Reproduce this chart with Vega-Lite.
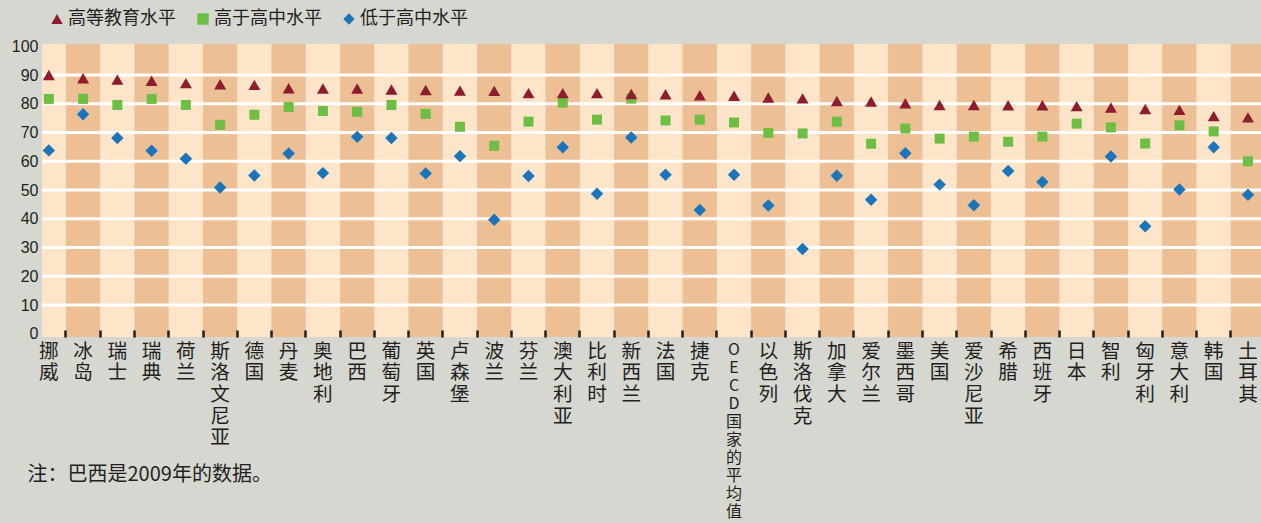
{
  "$schema": "https://vega.github.io/schema/vega-lite/v6.json",
  "width": 1219,
  "height": 293,
  "autosize": {"type": "none"},
  "padding": {"left": 42, "top": 44, "right": 0, "bottom": 186},
  "background": "#d6d7d1",
  "config": {"view": {"stroke": null}, "font": "Noto Sans CJK SC"},
  "data": {"values": [
    {"c": "挪威", "高等教育水平": 90.0, "高于高中水平": 81.7, "低于高中水平": 63.8},
    {"c": "冰岛", "高等教育水平": 88.9, "高于高中水平": 81.7, "低于高中水平": 76.4},
    {"c": "瑞士", "高等教育水平": 88.4, "高于高中水平": 79.6, "低于高中水平": 68.1},
    {"c": "瑞典", "高等教育水平": 88.0, "高于高中水平": 81.7, "低于高中水平": 63.7},
    {"c": "荷兰", "高等教育水平": 87.2, "高于高中水平": 79.6, "低于高中水平": 60.9},
    {"c": "斯洛文尼亚", "高等教育水平": 86.8, "高于高中水平": 72.7, "低于高中水平": 50.9},
    {"c": "德国", "高等教育水平": 86.6, "高于高中水平": 76.2, "低于高中水平": 55.1},
    {"c": "丹麦", "高等教育水平": 85.4, "高于高中水平": 78.9, "低于高中水平": 62.7},
    {"c": "奥地利", "高等教育水平": 85.3, "高于高中水平": 77.5, "低于高中水平": 55.9},
    {"c": "巴西", "高等教育水平": 85.3, "高于高中水平": 77.2, "低于高中水平": 68.5},
    {"c": "葡萄牙", "高等教育水平": 85.0, "高于高中水平": 79.6, "低于高中水平": 68.1},
    {"c": "英国", "高等教育水平": 84.8, "高于高中水平": 76.5, "低于高中水平": 55.8},
    {"c": "卢森堡", "高等教育水平": 84.6, "高于高中水平": 72.0, "低于高中水平": 61.8},
    {"c": "波兰", "高等教育水平": 84.5, "高于高中水平": 65.4, "低于高中水平": 39.7},
    {"c": "芬兰", "高等教育水平": 83.7, "高于高中水平": 73.8, "低于高中水平": 54.9},
    {"c": "澳大利亚", "高等教育水平": 83.7, "高于高中水平": 80.4, "低于高中水平": 64.9},
    {"c": "比利时", "高等教育水平": 83.7, "高于高中水平": 74.5, "低于高中水平": 48.7},
    {"c": "新西兰", "高等教育水平": 83.4, "高于高中水平": 81.8, "低于高中水平": 68.3},
    {"c": "法国", "高等教育水平": 83.3, "高于高中水平": 74.2, "低于高中水平": 55.3},
    {"c": "捷克", "高等教育水平": 83.0, "高于高中水平": 74.5, "低于高中水平": 43.1},
    {"c": "OECD国家的平均值", "高等教育水平": 82.8, "高于高中水平": 73.5, "低于高中水平": 55.3},
    {"c": "以色列", "高等教育水平": 82.2, "高于高中水平": 69.9, "低于高中水平": 44.6},
    {"c": "斯洛伐克", "高等教育水平": 81.9, "高于高中水平": 69.7, "低于高中水平": 29.5},
    {"c": "加拿大", "高等教育水平": 81.0, "高于高中水平": 73.8, "低于高中水平": 55.0},
    {"c": "爱尔兰", "高等教育水平": 80.8, "高于高中水平": 66.1, "低于高中水平": 46.6},
    {"c": "墨西哥", "高等教育水平": 80.2, "高于高中水平": 71.4, "低于高中水平": 62.8},
    {"c": "美国", "高等教育水平": 79.6, "高于高中水平": 67.9, "低于高中水平": 51.9},
    {"c": "爱沙尼亚", "高等教育水平": 79.6, "高于高中水平": 68.6, "低于高中水平": 44.7},
    {"c": "希腊", "高等教育水平": 79.5, "高于高中水平": 66.8, "低于高中水平": 56.6},
    {"c": "西班牙", "高等教育水平": 79.5, "高于高中水平": 68.6, "低于高中水平": 52.8},
    {"c": "日本", "高等教育水平": 79.2, "高于高中水平": 73.1, "低于高中水平": null},
    {"c": "智利", "高等教育水平": 78.7, "高于高中水平": 71.8, "低于高中水平": 61.7},
    {"c": "匈牙利", "高等教育水平": 78.2, "高于高中水平": 66.2, "低于高中水平": 37.4},
    {"c": "意大利", "高等教育水平": 77.9, "高于高中水平": 72.5, "低于高中水平": 50.2},
    {"c": "韩国", "高等教育水平": 75.7, "高于高中水平": 70.4, "低于高中水平": 64.9},
    {"c": "土耳其", "高等教育水平": 75.3, "高于高中水平": 60.0, "低于高中水平": 48.4}
  ]},
  "layer": [
    {
      "transform": [
        {"window": [{"op": "row_number", "as": "idx"}]},
        {"calculate": "datum.idx % 2", "as": "parity"}
      ],
      "mark": {"type": "rect", "clip": true},
      "encoding": {
        "x": {"field": "c", "type": "nominal", "sort": null,
          "scale": {"range": [-10.3, 1223.1], "paddingInner": 0, "paddingOuter": 0},
          "axis": {
            "title": "注：巴西是2009年的数据。",
            "titleX": -15, "titleY": 137, "titleAlign": "left", "titleAnchor": "start", "titleBaseline": "middle",
            "titleFontSize": 20, "titleFontWeight": "normal", "titleColor": "#231f20",
            "labelExpr": "split(datum.label, '')",
            "labelAngle": 0, "labelBaseline": "top",
            "labelFontSize": {"condition": {"test": "datum.value === 'OECD国家的平均值'", "value": 16}, "value": 19.7},
            "labelAlign": "center", "labelColor": "#231f20", "labelPadding": 11,
            "labelOverlap": false, "labelBound": false,
            "tickSize": -7, "tickWidth": 2.5, "tickColor": "#231f20", "bandPosition": 1,
            "domain": false, "zindex": 1
          }
        },
        "fill": {"field": "parity", "type": "nominal",
          "scale": {"domain": [1, 0], "range": ["#fee4c9", "#ecbf94"]}, "legend": null}
      }
    },
    {
      "data": {"values": [{"g": 10}, {"g": 20}, {"g": 30}, {"g": 40}, {"g": 50}, {"g": 60}, {"g": 70}, {"g": 80}, {"g": 90}]},
      "mark": {"type": "rule", "color": "#ffffff", "strokeWidth": 3},
      "encoding": {"y": {"field": "g", "type": "quantitative",
          "scale": {"domain": [-1.1, 100.8], "nice": false, "zero": false},
          "axis": {"values": [0, 10, 20, 30, 40, 50, 60, 70, 80, 90, 100], "grid": false, "domain": false, "ticks": false,
            "labelOverlap": false,
            "labelFont": "Liberation Sans", "labelFontSize": 16, "labelColor": "#231f20", "labelPadding": 4, "title": null}}}
    },
    {
      "transform": [
        {"fold": ["低于高中水平", "高于高中水平", "高等教育水平"], "as": ["series", "value"]},
        {"filter": "isValid(datum.value)"}
      ],
      "mark": {"type": "point", "filled": true, "opacity": 1},
      "encoding": {
        "x": {"field": "c", "type": "nominal", "sort": null,
          "scale": {"range": [-10.3, 1223.1], "paddingInner": 0, "paddingOuter": 0},
          "axis": {
            "title": "注：巴西是2009年的数据。",
            "titleX": -15, "titleY": 137, "titleAlign": "left", "titleAnchor": "start", "titleBaseline": "middle",
            "titleFontSize": 20, "titleFontWeight": "normal", "titleColor": "#231f20",
            "labelExpr": "split(datum.label, '')",
            "labelAngle": 0, "labelBaseline": "top",
            "labelFontSize": {"condition": {"test": "datum.value === 'OECD国家的平均值'", "value": 16}, "value": 19.7},
            "labelAlign": "center", "labelColor": "#231f20", "labelPadding": 11,
            "labelOverlap": false, "labelBound": false,
            "tickSize": -7, "tickWidth": 2.5, "tickColor": "#231f20", "bandPosition": 1,
            "domain": false, "zindex": 1
          }
        },
        "y": {"field": "value", "type": "quantitative",
          "scale": {"domain": [-1.1, 100.8], "nice": false, "zero": false},
          "axis": {"values": [0, 10, 20, 30, 40, 50, 60, 70, 80, 90, 100], "grid": false, "domain": false, "ticks": false,
            "labelOverlap": false,
            "labelFont": "Liberation Sans", "labelFontSize": 16, "labelColor": "#231f20", "labelPadding": 4, "title": null}},
        "color": {"field": "series", "type": "nominal",
          "scale": {"domain": ["高等教育水平", "高于高中水平", "低于高中水平"], "range": ["#8e1b2e", "#6dbe45", "#1b75bb"]},
          "legend": {"orient": "none", "legendX": 6, "legendY": -34, "direction": "horizontal", "title": null,
            "labelFontSize": 18, "labelColor": "#231f20", "symbolSize": 130, "labelOffset": 2, "columnPadding": 18, "padding": 0}},
        "shape": {"field": "series", "type": "nominal",
          "scale": {"domain": ["高等教育水平", "高于高中水平", "低于高中水平"], "range": ["triangle-up", "square", "diamond"]},
          "legend": {"orient": "none", "legendX": 6, "legendY": -34, "direction": "horizontal", "title": null,
            "labelFontSize": 18, "labelColor": "#231f20", "symbolSize": 130, "labelOffset": 2, "columnPadding": 18, "padding": 0}},
        "size": {"condition": [
            {"test": "datum.series === '低于高中水平'", "value": 155},
            {"test": "datum.series === '高于高中水平'", "value": 100}
          ], "value": 144}
      }
    }
  ]
}
